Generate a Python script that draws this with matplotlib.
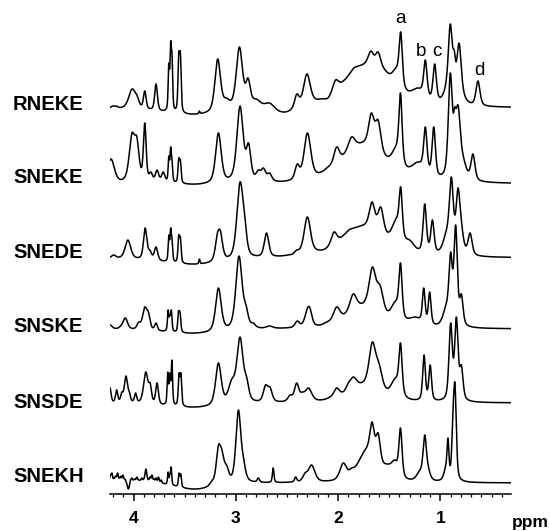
import numpy as np
import matplotlib.pyplot as plt

plt.rcParams['font.family'] = ['Liberation Sans', 'DejaVu Sans']

names = ['RNEKE', 'SNEKE', 'SNEDE', 'SNSKE', 'SNSDE', 'SNEKH']
# flat right-hand end of each trace, in pixel rows of the 531 px picture
baselines = [108, 184, 258, 329, 403, 483]
label_rows = [104, 178, 253, 327, 402, 477]

# each peak: (shift in ppm, apex height above baseline in px, half width in ppm)
rneke = [
    (4.205, 2, 0.015), (4.17, 2, 0.015),
    (4.015, 19, 0.03), (3.967, 13, 0.02), (3.89, 17, 0.012), (3.78, 24, 0.012),
    (3.655, 45, 0.006), (3.637, 67, 0.006), (3.624, 55, 0.006),
    (3.558, 56, 0.007), (3.542, 56, 0.007),
    (3.40, -6, 0.3), (3.356, -3, 0.005),
    (3.177, 49, 0.025), (3.09, 10, 0.03), (2.965, 61, 0.028), (2.88, 30, 0.02),
    (2.80, 9, 0.04), (2.67, 5, 0.04), (2.52, -4, 0.1),
    (2.404, 14, 0.02), (2.305, 34, 0.03), (2.10, 10, 0.03), (2.025, 28, 0.025),
    (1.846, 40, 0.03), (1.74, 45, 0.2), (1.68, 57, 0.025), (1.609, 56, 0.025),
    (1.54, 38, 0.04), (1.43, 41, 0.04), (1.388, 76, 0.014), (1.22, 20, 0.06),
    (1.147, 48, 0.015), (1.056, 44, 0.015),
    (0.94, 31, 0.03), (0.903, 84, 0.018), (0.865, 58, 0.012), (0.818, 65, 0.02),
    (0.77, 16, 0.03), (0.633, 27, 0.018),
]
sneke = [
    (4.22, 25, 0.03), (4.015, 51, 0.025), (3.967, 47, 0.02), (3.89, 61, 0.012),
    (3.83, 12, 0.015), (3.77, 14, 0.015), (3.71, 12, 0.015),
    (3.655, 28, 0.006), (3.637, 37, 0.006), (3.624, 25, 0.006),
    (3.558, 26, 0.007), (3.542, 24, 0.007), (3.38, 0, 0.15),
    (3.17, 51, 0.025), (2.959, 78, 0.028), (2.875, 41, 0.02),
    (2.78, 14, 0.02), (2.73, 16, 0.02), (2.67, 11, 0.02), (2.52, 3, 0.1),
    (2.40, 20, 0.02), (2.30, 51, 0.03), (2.10, 17, 0.03), (2.015, 37, 0.025),
    (1.869, 47, 0.03), (1.76, 42, 0.2), (1.675, 71, 0.025), (1.609, 64, 0.025),
    (1.43, 40, 0.04), (1.39, 91, 0.014), (1.22, 22, 0.06),
    (1.147, 57, 0.015), (1.065, 57, 0.015),
    (0.94, 30, 0.03), (0.903, 111, 0.018), (0.86, 77, 0.012), (0.828, 79, 0.02),
    (0.78, 30, 0.03), (0.682, 30, 0.018),
]
snede = [
    (4.195, 3, 0.02), (4.055, 18, 0.025), (3.886, 30, 0.015), (3.84, 8, 0.015),
    (3.78, 11, 0.015),
    (3.655, 23, 0.006), (3.637, 30, 0.006), (3.624, 20, 0.006),
    (3.558, 23, 0.007), (3.542, 21, 0.007),
    (3.40, -6, 0.3), (3.356, -1, 0.005),
    (3.18, 25, 0.02), (3.15, 27, 0.02), (2.959, 76, 0.028), (2.915, 45, 0.02),
    (2.70, 25, 0.02), (2.49, 3, 0.03), (2.405, 8, 0.02),
    (2.30, 41, 0.03), (2.26, 21, 0.02), (2.13, 9, 0.04), (2.04, 26, 0.025),
    (1.895, 28, 0.04), (1.755, 33, 0.2), (1.668, 56, 0.025), (1.583, 51, 0.025),
    (1.43, 40, 0.04), (1.388, 71, 0.014), (1.30, 18, 0.04),
    (1.153, 54, 0.015), (1.078, 38, 0.015),
    (0.942, 28, 0.03), (0.893, 81, 0.018), (0.828, 70, 0.018), (0.795, 38, 0.02),
    (0.71, 25, 0.018),
]
snske = [
    (4.23, 4, 0.02), (4.12, 4, 0.02), (4.08, 11, 0.02), (3.95, 7, 0.015),
    (3.89, 22, 0.02), (3.854, 17, 0.015), (3.78, 6, 0.012),
    (3.662, 19, 0.006), (3.645, 14, 0.006), (3.630, 19, 0.006),
    (3.56, 18, 0.007), (3.545, 17, 0.007),
    (3.40, -4, 0.3),
    (3.17, 41, 0.025), (2.969, 73, 0.028), (2.90, 24, 0.02),
    (2.83, 6, 0.02), (2.67, 3, 0.03), (2.40, 8, 0.02),
    (2.30, 21, 0.025), (2.275, 21, 0.02), (2.113, 7, 0.03), (2.015, 22, 0.03),
    (1.853, 35, 0.03), (1.76, 26, 0.15), (1.665, 62, 0.03), (1.59, 44, 0.03),
    (1.44, 28, 0.04), (1.39, 66, 0.014), (1.25, 12, 0.06),
    (1.163, 41, 0.012), (1.105, 37, 0.012),
    (0.942, 26, 0.03), (0.90, 77, 0.015), (0.851, 104, 0.015), (0.795, 35, 0.015),
]
snsde = [
    (4.23, 15, 0.01), (4.165, 13, 0.01), (4.115, 11, 0.01), (4.074, 27, 0.015),
    (4.04, 11, 0.01), (3.98, 10, 0.01),
    (3.88, 31, 0.02), (3.837, 20, 0.012), (3.77, 20, 0.012),
    (3.665, 31, 0.006), (3.645, 30, 0.006), (3.625, 43, 0.006),
    (3.555, 30, 0.007), (3.537, 30, 0.007),
    (3.40, -4, 0.3),
    (3.17, 40, 0.025), (3.04, 24, 0.03), (2.959, 66, 0.028), (2.894, 26, 0.02),
    (2.71, 18, 0.02), (2.666, 16, 0.02), (2.47, 8, 0.02), (2.405, 20, 0.02),
    (2.35, 11, 0.02), (2.29, 15, 0.03), (2.08, 6, 0.03), (2.015, 15, 0.025),
    (1.902, 20, 0.02), (1.853, 26, 0.03), (1.76, 21, 0.15), (1.665, 61, 0.03),
    (1.60, 40, 0.03), (1.44, 25, 0.04), (1.39, 60, 0.014),
    (1.16, 48, 0.012), (1.10, 38, 0.012),
    (0.90, 80, 0.015), (0.844, 86, 0.015), (0.795, 38, 0.015),
]
snekh = [
    (4.225, 8, 0.006), (4.211, 10, 0.006), (4.19, 5, 0.006), (4.175, 7, 0.006),
    (4.156, 10, 0.006), (4.14, 5, 0.006), (4.125, 7, 0.006), (4.104, 8, 0.006),
    (4.085, 4, 0.006), (4.05, -6, 0.01), (4.03, 3, 0.006), (4.016, 5, 0.006),
    (3.99, 4, 0.006), (3.967, 6, 0.006), (3.945, 3, 0.006), (3.92, 5, 0.006),
    (3.90, 4, 0.006), (3.879, 14, 0.008), (3.86, 4, 0.006), (3.84, 6, 0.006),
    (3.82, 8, 0.006), (3.80, 4, 0.006), (3.78, 5, 0.006), (3.756, 6, 0.006),
    (3.73, 3, 0.006), (3.95, 3, 0.25),
    (3.662, 11, 0.005), (3.645, 9, 0.005), (3.632, 16, 0.005),
    (3.555, 10, 0.006), (3.538, 9, 0.006),
    (3.40, -6, 0.2),
    (3.235, 2, 0.02), (3.17, 38, 0.02), (3.135, 33, 0.02), (3.09, 18, 0.02),
    (2.975, 73, 0.022), (2.926, 26, 0.02), (2.78, 5, 0.01), (2.635, 15, 0.007),
    (2.415, 6, 0.01), (2.325, 10, 0.02), (2.26, 18, 0.03),
    (1.95, 20, 0.03), (1.869, 15, 0.02), (1.82, 18, 0.03), (1.72, 36, 0.08),
    (1.668, 61, 0.02), (1.609, 50, 0.02),
    (1.52, 19, 0.05), (1.446, 23, 0.03), (1.39, 55, 0.014), (1.20, 13, 0.03),
    (1.153, 48, 0.015), (1.12, 18, 0.02),
    (0.942, 23, 0.02), (0.926, 45, 0.008), (0.878, 73, 0.01), (0.858, 100, 0.012),
]
spectra = [rneke, sneke, snede, snske, snsde, snekh]

broadening = 1.3   # the printed traces look smoother than the raw line list
eta = 0.5          # lorentzian share of the pseudo-voigt line shape


def shape(x, c, w):
    d = (x[:, None] - c[None, :]) / (w[None, :] * broadening)
    return eta / (1.0 + d ** 2) + (1 - eta) * np.exp(-np.log(2) * d ** 2)


def trace(peaks, ppm):
    c, h, w = np.array(peaks, dtype=float).T
    # amplitudes chosen so the summed curve passes through each read apex
    amp = np.linalg.solve(shape(c, c, w), h)
    return shape(ppm, c, w) @ amp


fig = plt.figure(figsize=(5.5, 5.31), dpi=100)
ax = fig.add_axes([110 / 550, 0, 401 / 550, 1])
ax.set_xlim(4.23, 0.31)
ax.set_ylim(531, 0)

ppm = np.linspace(4.23, 0.31, 3000)
for peaks, base in zip(spectra, baselines):
    ax.plot(ppm, base - trace(peaks, ppm), color='black', lw=1.1)

for name, row in zip(names, label_rows):
    fig.text(13 / 550, 1 - row / 531, name, fontsize=14.5, fontweight='bold',
             ha='left', va='center')

for letter, x, y in [('a', 1.388, 23.3), ('b', 1.19, 56), ('c', 1.03, 56), ('d', 0.623, 75)]:
    ax.text(x, y, letter, fontsize=13.5, ha='center', va='baseline')

for side in ['top', 'left', 'right']:
    ax.spines[side].set_visible(False)
ax.spines['bottom'].set_position(('data', 494.3))
ax.spines['bottom'].set_linewidth(1.1)
ax.set_yticks([])
ax.set_xticks([4, 3, 2, 1])
ax.set_xticklabels(['4', '3', '2', '1'], fontsize=12.5, fontweight='bold')
ax.set_xticks(np.arange(0.4, 4.25, 0.1), minor=True)
ax.tick_params(axis='x', which='major', direction='out', length=5, width=1.1, pad=7)
ax.tick_params(axis='x', which='minor', direction='out', length=2.5, width=0.9)

fig.text(530 / 550, 1 - 526.7 / 531, 'ppm', fontsize=12.5, fontweight='bold',
         ha='center', va='baseline')

fig.savefig('out.png', dpi=100)
